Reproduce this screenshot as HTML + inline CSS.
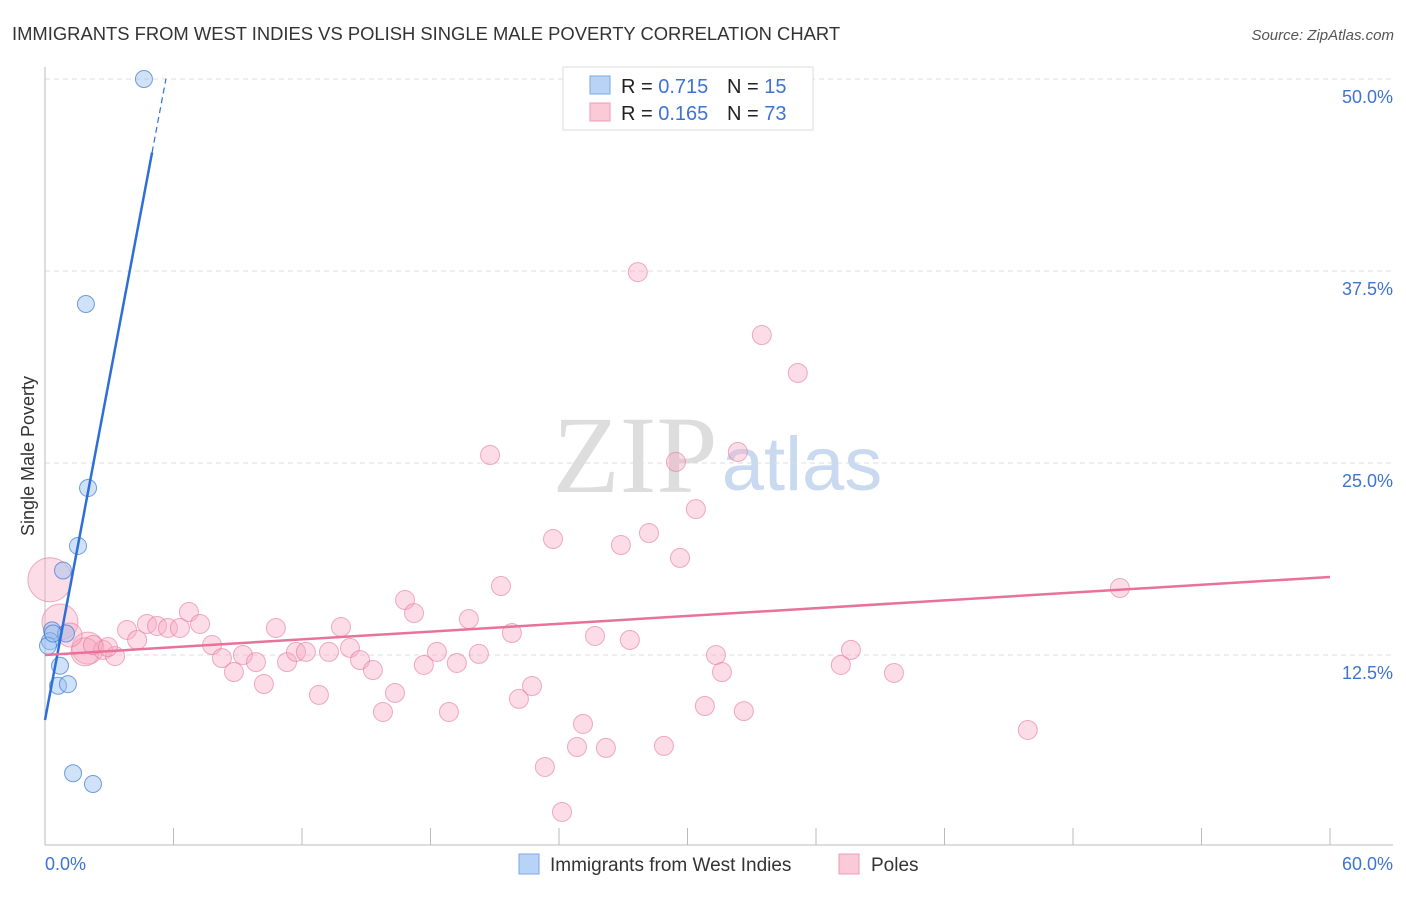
<!DOCTYPE html>
<html><head><meta charset="utf-8"><style>
body{margin:0;background:#fff;font-family:"Liberation Sans",sans-serif;}
svg text{font-family:"Liberation Sans",sans-serif;}
</style></head><body>
<svg id="chart" width="1406" height="892" xmlns="http://www.w3.org/2000/svg">
<text x="12" y="40" font-size="18.4" fill="#333">IMMIGRANTS FROM WEST INDIES VS POLISH SINGLE MALE POVERTY CORRELATION CHART</text>
<text x="1394" y="40" font-size="15" fill="#555" font-style="italic" text-anchor="end">Source: ZipAtlas.com</text>
<text x="635" y="492" font-size="110" fill="#ddd" text-anchor="middle" style="font-family:'Liberation Serif',serif">ZIP</text>
<text x="802" y="490" font-size="76" fill="#c9daf0" text-anchor="middle">atlas</text>
<text transform="translate(34,456) rotate(-90)" font-size="18" fill="#333" text-anchor="middle">Single Male Poverty</text>
<g id="grid"></g><g id="axes"></g><g id="pinkPts"></g><g id="bluePts"></g><g id="lines"></g>
<g>
<rect x="563" y="67" width="250" height="63" fill="#fff" stroke="#ddd"/>
<rect x="590" y="76" width="20" height="18" fill="#b8d3f5" stroke="#7aa9e6"/>
<rect x="590" y="103" width="20" height="18" fill="#fbcad9" stroke="#ee9bb5"/>
<text x="621" y="93" font-size="20" fill="#222">R = <tspan fill="#3d74d4">0.715</tspan></text>
<text x="727" y="93" font-size="20" fill="#222">N = <tspan fill="#3d74d4"> 15</tspan></text>
<text x="621" y="120" font-size="20" fill="#222">R = <tspan fill="#3d74d4">0.165</tspan></text>
<text x="727" y="120" font-size="20" fill="#222">N = <tspan fill="#3d74d4">73</tspan></text>
</g>
<g>
<rect x="519" y="854" width="20" height="20" fill="#b8d3f5" stroke="#7aa9e6"/>
<text x="550" y="871" font-size="19" fill="#333">Immigrants from West Indies</text>
<rect x="839" y="854" width="20" height="20" fill="#fbcad9" stroke="#ee9bb5"/>
<text x="871" y="871" font-size="19" fill="#333">Poles</text>
</g>
</svg>
<script>
const yTicks=[12.5,25,37.5,50];
const yTickLabels=["12.5%","25.0%","37.5%","50.0%"];
const xTickVals=[0,6,12,18,24,30,36,42,48,54,60];
const xEndLabels=["0.0%","60.0%"];
const blueX=[4.62,1.91,2.01,1.54,0.84,0.33,0.98,0.23,0.14,0.70,0.61,1.07,1.31,2.24,0.37];
const blueY=[50.0,35.35,23.37,19.6,18.0,14.1,13.9,13.4,13.1,11.8,10.5,10.6,4.8,4.1,13.9];
const pinkX=[0.23,0.70,2.0,1.87,1.17,3.83,4.30,4.76,5.23,5.74,6.30,6.72,7.24,7.80,8.26,8.82,9.24,9.85,10.22,10.78,11.30,11.72,12.18,12.79,13.26,13.82,14.24,14.71,15.31,15.78,16.34,16.81,17.23,17.69,18.30,18.86,19.23,19.79,20.26,20.78,21.29,21.80,22.13,22.74,23.34,23.72,24.14,24.84,25.12,25.68,26.19,26.89,27.31,27.68,28.20,28.90,29.46,29.65,30.39,30.81,31.33,31.61,32.35,32.63,33.47,35.15,37.16,37.63,39.64,45.89,50.19,2.71,3.27,2.24,2.94];
const pinkY=[17.4,14.65,12.95,12.7,13.8,14.13,13.48,14.52,14.39,14.26,14.26,15.3,14.52,13.15,12.3,11.39,12.5,12.04,10.61,14.26,12.04,12.7,12.7,9.9,12.7,14.32,12.96,12.17,11.52,8.79,10.03,16.08,15.23,11.85,12.7,8.79,11.98,14.84,12.57,25.52,16.99,13.93,9.64,10.48,5.21,20.05,2.28,6.51,8.01,13.74,6.45,19.66,13.48,37.43,20.44,6.58,25.07,18.82,22.0,9.18,12.5,11.39,25.72,8.85,33.33,30.86,11.85,12.83,11.33,7.62,16.86,12.83,12.43,13.15,13.02];
const pinkSize=[22,18,16,14,12];
const blueTrend=[8.27,7.39];
const pinkTrend=[12.5,17.58];
const NS="http://www.w3.org/2000/svg";
function sx(v){return 45+v/60*1285;}
function sy(v){return 847-v/12.5*192;}
function mk(tag,attrs,parent){const e=document.createElementNS(NS,tag);for(const k in attrs)e.setAttribute(k,attrs[k]);document.getElementById(parent).appendChild(e);return e;}
yTicks.forEach((t,i)=>{
 const l=mk('line',{x1:45,x2:1393,y1:sy(t),y2:sy(t),stroke:'#ddd','stroke-dasharray':'5,4'},'grid');
 
 
 const tx=mk('text',{x:1393,y:sy(t)+24,'font-size':18,fill:'#3d74d4','text-anchor':'end'},'grid');
 tx.textContent=yTickLabels[i];
 
 
});
const ax=mk('line',{x1:45,x2:1393,y1:845,y2:845,stroke:'#bbb'},'axes');


const ay=mk('line',{x1:45,x2:45,y1:67,y2:845,stroke:'#bbb'},'axes');


xTickVals.forEach(v=>{
 const t=mk('line',{x1:sx(v),x2:sx(v),y1:828,y2:845,stroke:'#bbb'},'axes');
 
 
});
const xl0=mk('text',{x:45,y:870,'font-size':18,fill:'#3d74d4'},'axes');xl0.textContent=xEndLabels[0];


const xl1=mk('text',{x:1393,y:870,'font-size':18,fill:'#3d74d4','text-anchor':'end'},'axes');xl1.textContent=xEndLabels[1];


pinkX.forEach((x,i)=>{
 const c=mk('circle',{cx:sx(x),cy:sy(pinkY[i]),r:pinkSize[i]||9.5,fill:'rgba(248,170,195,0.4)',stroke:'rgba(230,120,155,0.6)','stroke-width':1},'pinkPts');
 
 
});
blueX.forEach((x,i)=>{
 const c=mk('circle',{cx:sx(x),cy:sy(blueY[i]),r:8.5,fill:'rgba(150,190,240,0.45)',stroke:'rgba(60,120,210,0.7)','stroke-width':1},'bluePts');
 
 
});
const bl=mk('line',{x1:sx(0),y1:sy(blueTrend[0]),x2:sx(5.0),y2:sy(blueTrend[0]+blueTrend[1]*5.0),stroke:'#2d6fd6','stroke-width':2.5},'lines');


const bd=mk('line',{x1:sx(5.0),y1:sy(blueTrend[0]+blueTrend[1]*5.0),x2:sx(5.65),y2:sy(blueTrend[0]+blueTrend[1]*5.65),stroke:'#2d6fd6','stroke-width':1.2,'stroke-dasharray':'6,4'},'lines');


const pl=mk('line',{x1:sx(0),y1:sy(pinkTrend[0]),x2:sx(60),y2:sy(pinkTrend[1]),stroke:'#e8729a','stroke-width':2.5},'lines');


</script>
</body></html>
